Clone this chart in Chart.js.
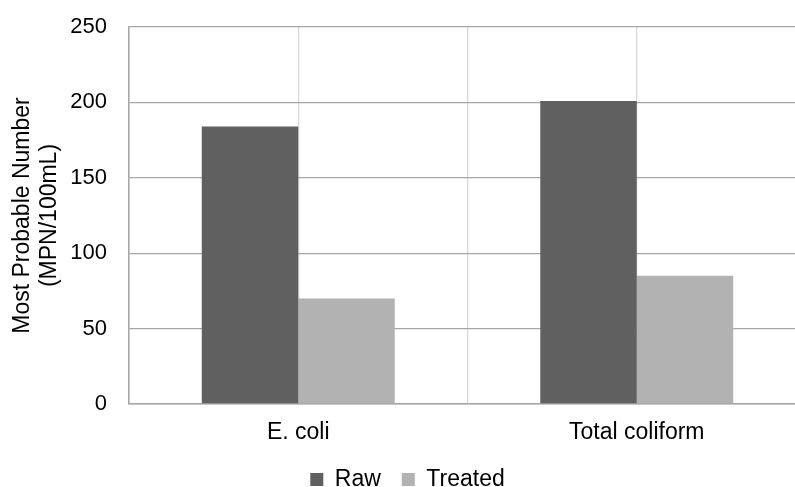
<!DOCTYPE html>
<html>
<head>
<meta charset="utf-8">
<script src="https://cdn.jsdelivr.net/npm/chart.js@4.4.1/dist/chart.umd.min.js"></script>
<style>
  html, body { margin: 0; padding: 0; background: #fff; overflow: hidden; }
  #wrap { position: relative; width: 816px; height: 501px; }
</style>
</head>
<body>
<div id="wrap"><canvas id="myChart"></canvas></div>
<script>
// Datos del gráfico
const categories = ['E. coli', 'Total coliform'];
const rawValues = [184, 201];
const treatedValues = [70, 85];
const yTicks = [0, 50, 100, 150, 200, 250];

const FONT = "'Liberation Sans', Arial, sans-serif";

document.addEventListener("DOMContentLoaded", function () {
    const ctx = document.getElementById('myChart').getContext('2d');

    window.myChart = new Chart(ctx, {
        type: 'bar',
        data: {
            labels: categories,
            datasets: [
                {
                    label: 'Raw',
                    data: rawValues,
                    backgroundColor: '#606060',
                    xAxisID: 'x',
                    yAxisID: 'y'
                },
                {
                    label: 'Treated',
                    data: treatedValues,
                    backgroundColor: '#b2b2b2',
                    xAxisID: 'x',
                    yAxisID: 'y'
                }
            ]
        },
        options: {
            responsive: true,
            maintainAspectRatio: false,
            animation: false,
            devicePixelRatio: 1,
            layout: { padding: { left: 9, right: 10, top: 27, bottom: 0 } },
            datasets: {
                bar: { categoryPercentage: 0.57, barPercentage: 1.0 }
            },
            plugins: {
                tooltip: { enabled: false },
                legend: {
                    position: 'bottom',
                    labels: {
                        boxWidth: 13,
                        boxHeight: 13,
                        padding: 21,
                        color: '#000',
                        font: { family: FONT, size: 23 }
                    }
                }
            },
            scales: {
                x: {
                    type: 'category',
                    position: 'bottom',
                    offset: true,
                    grid: { offset: true, color: '#d9d9d9', lineWidth: 1.3, drawTicks: false },
                    border: { color: '#a6a6a6', width: 1.5 },
                    ticks: {
                        color: '#000',
                        padding: 15,
                        font: { family: FONT, size: 23 }
                    },
                    afterFit: function (scale) { scale.height = 43; }
                },
                // líneas verticales en el centro de cada categoría
                x2: {
                    type: 'category',
                    position: 'bottom',
                    labels: categories,
                    offset: true,
                    grid: { offset: false, color: '#d9d9d9', lineWidth: 1.3, drawTicks: false },
                    border: { display: false },
                    ticks: { display: false },
                    afterFit: function (scale) { scale.height = 0; }
                },
                y: {
                    min: 0,
                    max: 250,
                    afterBuildTicks: function (scale) {
                        scale.ticks = yTicks.map(v => ({ value: v }));
                    },
                    grid: { color: '#a6a6a6', lineWidth: 1.3, drawTicks: false },
                    border: { color: '#a6a6a6', width: 1.5 },
                    ticks: {
                        color: '#000',
                        padding: 22,
                        font: { family: FONT, size: 22 }
                    },
                    title: {
                        display: true,
                        text: ['Most Probable Number', '(MPN/100mL)'],
                        color: '#000',
                        padding: 0,
                        font: { family: FONT, size: 23, lineHeight: 1.17 }
                    },
                    afterFit: function (scale) {
                        scale.width = 120;
                        // el padding de los ticks no debe empujar el área del gráfico
                        scale.paddingTop = 12;
                        scale.paddingBottom = 12;
                    }
                }
            }
        }
    });
});
</script>
</body>
</html>
